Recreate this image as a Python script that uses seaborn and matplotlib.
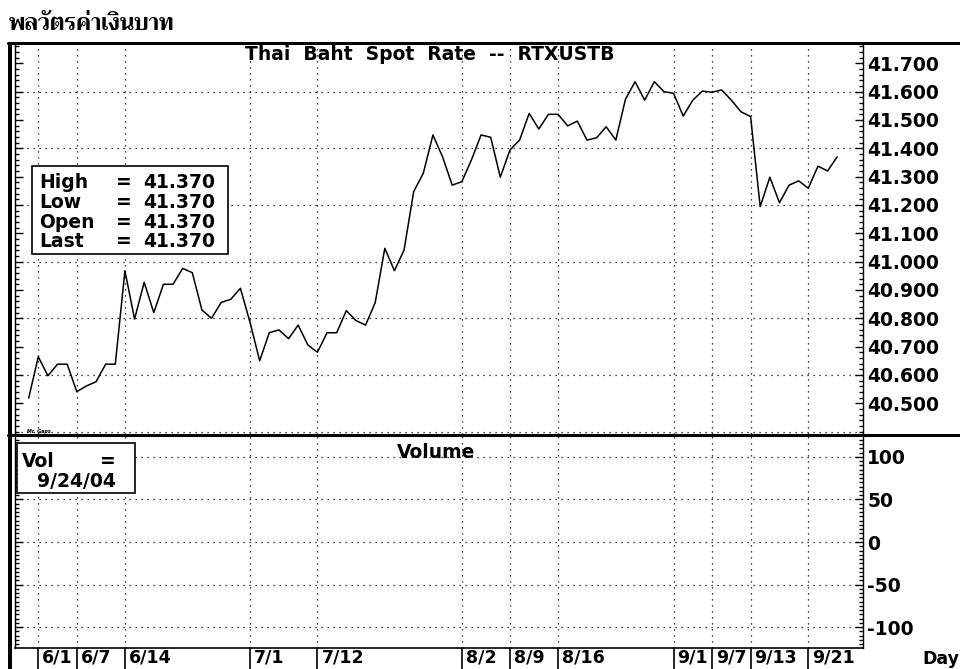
import numpy as np
import matplotlib
matplotlib.use('Agg')
import matplotlib.pyplot as plt
import matplotlib.ticker as mticker
import matplotlib.transforms as mtransforms
from matplotlib import font_manager
from matplotlib.ft2font import FT2Font
from matplotlib.patches import Rectangle
from matplotlib.lines import Line2D
import seaborn as sns

# Thai Baht spot rate (RTXUSTB), one close per trading day, 5/31/04 .. 9/24/04
day = list(range(-1, 84))
rate = [40.518, 40.664, 40.597, 40.638, 40.638, 40.541, 40.561, 40.576, 40.638, 40.638,
        40.968, 40.797, 40.927, 40.820, 40.920, 40.920, 40.976, 40.961, 40.829, 40.800,
        40.856, 40.867, 40.906, 40.785, 40.650, 40.749, 40.759, 40.728, 40.776, 40.706,
        40.680, 40.749, 40.749, 40.827, 40.792, 40.776, 40.855, 41.047, 40.968, 41.041,
        41.247, 41.312, 41.447, 41.370, 41.270, 41.282, 41.359, 41.447, 41.439, 41.298,
        41.394, 41.429, 41.523, 41.468, 41.520, 41.520, 41.479, 41.496, 41.429, 41.437,
        41.476, 41.429, 41.573, 41.635, 41.570, 41.635, 41.600, 41.594, 41.514, 41.570,
        41.602, 41.598, 41.606, 41.570, 41.529, 41.512, 41.194, 41.298, 41.208, 41.270,
        41.285, 41.259, 41.337, 41.320, 41.370]

tick_days = [0, 4, 9, 22, 29, 44, 49, 54, 66, 70, 74, 80]
tick_labels = ['6/1', '6/7', '6/14', '7/1', '7/12', '8/2', '8/9', '8/16',
               '9/1', '9/7', '9/13', '9/21']
rate_ticks = [40.5, 40.6, 40.7, 40.8, 40.9, 41.0, 41.1, 41.2, 41.3, 41.4, 41.5, 41.6, 41.7]
rate_grid = [40.4, 40.6, 40.8, 41.0, 41.2, 41.4, 41.6]
vol_ticks = [-100, -50, 0, 50, 100]

info_names = ['High', 'Low', 'Open', 'Last']
info_values = ['41.370', '41.370', '41.370', '41.370']


def find_thai_font():
    found = None
    for f in font_manager.fontManager.ttflist:
        try:
            cmap = FT2Font(f.fname).get_charmap()
        except Exception:
            continue
        if 0x0E1E in cmap and 0x0E32 in cmap:
            if found is None or str(f.weight) in ('bold', '700'):
                found = f.name
    return found


sns.set_style('white')
plt.rcParams['font.family'] = ['DejaVu Sans']
plt.rcParams['font.weight'] = 'bold'
plt.rcParams['font.size'] = 13.5
for key in ('text.color', 'axes.labelcolor', 'xtick.color', 'ytick.color', 'axes.edgecolor'):
    plt.rcParams[key] = 'black'

W, H = 960, 669


def fx(px):
    return px / W


def fy(py):
    return 1 - py / H


dot = (0, (1, 3.8))

fig = plt.figure(figsize=(9.6, 6.69), dpi=100)
ax1 = fig.add_axes([fx(15), fy(434), fx(863) - fx(15), (434 - 43) / H])
ax2 = fig.add_axes([fx(15), fy(648), fx(863) - fx(15), (648 - 436) / H], sharex=ax1)

sns.lineplot(x=day, y=rate, ax=ax1, color='black', linewidth=1.1)

ax1.set_xlim(-2.42, 85.68)
ax1.set_ylim(40.3915, 41.7717)
ax2.set_ylim(-124.7, 124.7)
ax1.set_xlabel('')
ax1.set_ylabel('')

# upper panel axes
ax1.set_xticks(tick_days)
ax1.tick_params(axis='x', length=0, labelbottom=False)
ax1.set_yticks(rate_ticks, labels=[f'{v:.3f}' for v in rate_ticks])
ax1.yaxis.set_minor_locator(mticker.MultipleLocator(0.02))
ax1.tick_params(axis='y', which='both', direction='in', left=True, right=True,
                labelleft=False, labelright=True, pad=3, width=1)
ax1.tick_params(axis='y', which='major', length=6)
ax1.tick_params(axis='y', which='minor', length=3)
ax1.grid(axis='x', color='black', linestyle=dot, linewidth=0.9)
for g in rate_grid:
    ax1.axhline(g, color='black', linestyle=dot, linewidth=0.9, zorder=1)

# lower (volume) panel axes
ax2.set_yticks(vol_ticks, labels=[str(v) for v in vol_ticks])
ax2.yaxis.set_minor_locator(mticker.MultipleLocator(5))
ax2.tick_params(axis='y', which='both', direction='in', left=True, right=True,
                labelleft=False, labelright=True, pad=3, width=1)
ax2.tick_params(axis='y', which='major', length=6)
ax2.tick_params(axis='y', which='minor', length=3)
ax2.set_xticks(tick_days, labels=tick_labels)
ax2.tick_params(axis='x', direction='out', length=15, width=1.2, pad=-14.6,
                bottom=True, labelsize=12.5)
ax2.grid(True, color='black', linestyle=dot, linewidth=0.9)
shift = mtransforms.ScaledTranslation(4 / 100, 0, fig.dpi_scale_trans)
for lab in ax2.get_xticklabels():
    lab.set_horizontalalignment('left')
    lab.set_transform(lab.get_transform() + shift)

for ax in (ax1, ax2):
    for side in ('left', 'right'):
        ax.spines[side].set_color('black')
        ax.spines[side].set_linewidth(1)
    ax.spines['top'].set_visible(False)
ax1.spines['bottom'].set_visible(False)
ax2.spines['bottom'].set_color('black')
ax2.spines['bottom'].set_linewidth(1.2)

# heavy frame lines of the chart window
fig.add_artist(Line2D([fx(8), 1], [fy(43), fy(43)], color='black', lw=2.2))
fig.add_artist(Line2D([fx(8), 1], [fy(435), fy(435)], color='black', lw=2.2))
fig.add_artist(Line2D([fx(9.5), fx(9.5)], [fy(42), 0], color='black', lw=2.9,
                      solid_capstyle='butt'))

# panel titles
fig.text(fx(245), fy(60), 'Thai  Baht  Spot  Rate  --  RTXUSTB', va='baseline', ha='left')
fig.text(fx(397), fy(458), 'Volume', va='baseline', ha='left')
fig.text(fx(27), fy(433), 'Mr. Gaps', fontsize=3.5, style='italic', va='baseline')
fig.text(fx(922), fy(664), 'Day', va='baseline', ha='left', fontsize=12.5)

# High / Low / Open / Last box
fig.add_artist(Rectangle((fx(32), fy(254)), fx(228) - fx(32), (254 - 166) / H,
                         transform=fig.transFigure, facecolor='white',
                         edgecolor='black', lw=1.2, zorder=5))
for base, name, val in zip([188, 208, 228, 247], info_names, info_values):
    fig.text(fx(39), fy(base), name, va='baseline', zorder=6)
    fig.text(fx(116), fy(base), '=', va='baseline', zorder=6)
    fig.text(fx(143), fy(base), val, va='baseline', zorder=6)

# Vol box
fig.add_artist(Rectangle((fx(17), fy(493)), fx(135) - fx(17), (493 - 443) / H,
                         transform=fig.transFigure, facecolor='white',
                         edgecolor='black', lw=1.2, zorder=5))
fig.text(fx(22), fy(467), 'Vol', va='baseline', zorder=6)
fig.text(fx(100), fy(467), '=', va='baseline', zorder=6)
fig.text(fx(37), fy(487), '9/24/04', va='baseline', zorder=6)

# Thai heading
thai = find_thai_font()
fams = [thai, 'DejaVu Sans'] if thai else ['DejaVu Sans']
fig.text(fx(9), fy(30), 'พลวัตรค่าเงินบาท', family=fams, fontsize=16,
         fontweight='bold', va='baseline', ha='left', color='black')

fig.savefig('out.png', dpi=100)
